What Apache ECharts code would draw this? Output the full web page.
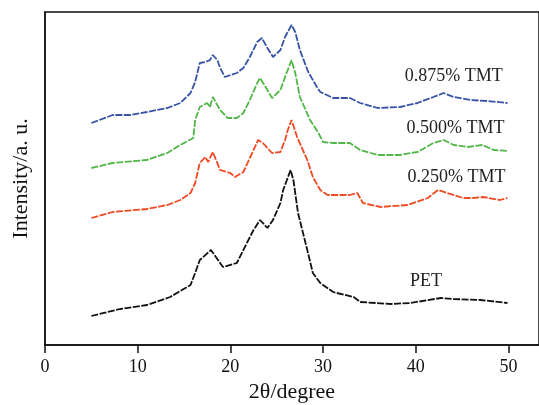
<!DOCTYPE html>
<html>
<head>
<meta charset="utf-8">
<script src="https://cdn.jsdelivr.net/npm/echarts@6/dist/echarts.min.js"></script>
<style>
  html, body { margin: 0; padding: 0; background: #fff; }
  #main { width: 539px; height: 405px; }
</style>
</head>
<body>
<div id="main"></div>
<script>
// 2theta (degree), intensity (a.u., stacked offsets as drawn)
var pet = [[5.0,29],[8.1,36],[11.0,40],[13.5,48],[15.7,60],[16.2,72],[16.7,85],[17.9,95],[19.2,78],[20.7,82],[21.4,95],[22.5,115],[23.2,125],[24.0,117],[24.6,125],[25.4,142],[25.7,155],[26.5,175],[26.8,165],[27.3,132],[28.3,95],[28.9,72],[29.7,62],[31.1,53],[31.5,52],[33.3,48],[34.0,43],[37.3,41],[39.4,42],[42.7,47],[44.1,46],[47.0,45],[49.9,42]];
var tmt250 = [[5.0,127],[7.3,133],[11.0,136],[13.2,140],[14.6,145],[15.7,152],[16.2,162],[16.7,182],[17.3,188],[17.6,183],[18.1,193],[18.9,175],[20.0,172],[20.5,168],[21.4,173],[22.1,187],[23.0,205],[23.5,202],[24.5,192],[25.4,193],[25.9,205],[26.2,215],[26.6,225],[27.2,208],[28.3,185],[28.9,168],[29.7,155],[30.5,150],[32.9,150],[33.7,152],[34.3,142],[36.2,138],[39.1,140],[41.3,147],[42.4,155],[43.4,152],[45.1,147],[46.2,147],[47.3,148],[49.1,145],[49.9,147]];
var tmt500 = [[5.0,177],[7.3,182],[11.0,185],[13.2,192],[14.6,200],[16.0,207],[16.2,225],[16.7,238],[17.5,242],[17.8,238],[18.1,248],[18.9,235],[19.7,227],[20.7,227],[21.4,232],[22.1,245],[22.9,262],[23.2,267],[23.8,258],[24.5,247],[25.4,255],[25.9,268],[26.6,285],[27.0,272],[27.5,248],[28.6,225],[29.5,212],[30.0,203],[31.1,202],[32.9,202],[34.0,195],[35.9,190],[38.3,190],[40.2,193],[41.9,202],[43.0,205],[44.1,200],[45.6,198],[47.2,200],[48.4,195],[49.9,194]];
var tmt875 = [[5.0,222],[7.3,230],[9.2,230],[11.0,233],[13.2,237],[14.6,242],[15.7,252],[16.2,263],[16.7,282],[17.3,283],[17.8,285],[18.1,290],[18.6,285],[18.9,277],[19.4,268],[20.7,272],[21.4,277],[22.1,288],[22.9,303],[23.4,307],[24.0,297],[24.6,288],[25.4,295],[25.9,308],[26.6,320],[27.0,313],[27.5,295],[28.4,273],[29.4,257],[29.7,253],[31.1,247],[32.9,247],[34.0,242],[35.9,237],[38.3,238],[40.2,242],[41.9,248],[43.0,252],[44.1,248],[45.9,245],[47.7,244],[49.9,242]];

var names = ['PET', '0.250% TMT', '0.500% TMT', '0.875% TMT'];
var colors = ['#111111', '#f04a22', '#52b548', '#3653a6'];
var labelPos = [[41.1,64],[44.4,168],[44.3,217],[44.1,269]];
var allData = [pet, tmt250, tmt500, tmt875];

var font = 'Liberation Serif';
var chart = echarts.init(document.getElementById('main'));

var series = allData.map(function (d, i) {
  return {
    name: names[i],
    type: 'line',
    data: d,
    showSymbol: false,
    lineStyle: { color: colors[i], width: 1.8, type: [7, 1.5] },
    markPoint: {
      symbol: 'circle',
      symbolSize: 1,
      silent: true,
      itemStyle: { color: 'rgba(0,0,0,0)' },
      label: { show: true, position: 'inside', formatter: names[i], color: '#222', fontFamily: font, fontSize: 18 },
      data: [{ coord: labelPos[i] }]
    }
  };
});

chart.setOption({
  animation: false,
  grid: { left: 45, top: 12, right: 0, bottom: 60, outerBoundsMode: 'none', show: true, borderColor: '#111', borderWidth: 1.5 },
  xAxis: {
    type: 'value', min: 0, max: 53.3, interval: 10,
    name: '2θ/degree', nameLocation: 'middle', nameGap: 36,
    nameTextStyle: { fontFamily: font, fontSize: 22, color: '#111' },
    axisLine: { lineStyle: { color: '#111', width: 1.5 } },
    axisTick: { length: 8, lineStyle: { color: '#111', width: 1.5 } },
    axisLabel: { fontFamily: font, fontSize: 18, color: '#111', margin: 13,
      showMaxLabel: false },
    splitLine: { show: false }
  },
  yAxis: {
    type: 'value', min: 0, max: 333,
    name: 'Intensity/a. u.', nameLocation: 'middle', nameGap: 13,
    nameTextStyle: { fontFamily: font, fontSize: 22, color: '#111' },
    axisLine: { show: true, lineStyle: { color: '#111', width: 1.5 } },
    axisTick: { show: false },
    axisLabel: { show: false },
    splitLine: { show: false }
  },
  series: series
});
</script>
</body>
</html>
